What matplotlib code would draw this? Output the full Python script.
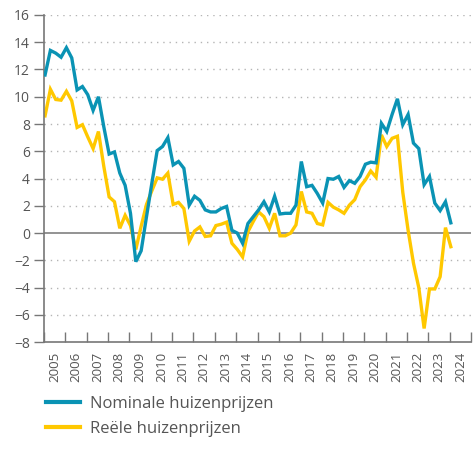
import matplotlib.pyplot as plt
import numpy as np
from matplotlib.ticker import FixedLocator, NullFormatter, FixedFormatter

# quarterly changes, 2005Q1 .. 2024Q1 (%)
nominaal = [
    11.6, 13.4, 13.2, 12.9,
    13.6, 12.85, 10.5, 10.75,
    10.15, 9.0, 10.0, 7.8,
    5.8, 5.95, 4.4, 3.5,
    1.45, -2.1, -1.3, 1.2,
    3.65, 6.05, 6.35, 7.0,
    5.0, 5.25, 4.75, 2.05,
    2.7, 2.4, 1.7, 1.55,
    1.55, 1.8, 1.95, 0.2,
    0.0, -0.75, 0.7, 1.2,
    1.7, 2.3, 1.55, 2.7,
    1.4, 1.45, 1.45, 2.05,
    5.25, 3.4, 3.5, 2.9,
    2.2, 4.0, 3.95, 4.15,
    3.35, 3.85, 3.65, 4.15,
    5.05, 5.2, 5.15, 8.05,
    7.45, 8.7, 9.85, 7.95,
    8.7, 6.6, 6.2, 3.55,
    4.15, 2.2, 1.65, 2.3,
    0.75,
]
reeel = [
    8.6, 10.55, 9.8, 9.75,
    10.4, 9.7, 7.75, 7.95,
    7.05, 6.2, 7.45, 4.9,
    2.65, 2.3, 0.35, 1.3,
    0.55, -1.2, 0.5, 2.1,
    3.1, 4.05, 3.95, 4.4,
    2.1, 2.25, 1.8, -0.6,
    0.15, 0.45, -0.25, -0.2,
    0.55, 0.65, 0.8, -0.75,
    -1.2, -1.75, 0.1, 0.85,
    1.55, 1.2, 0.35, 1.45,
    -0.2, -0.2, 0.0, 0.6,
    3.05, 1.55, 1.45, 0.7,
    0.6, 2.25, 1.9, 1.7,
    1.45, 2.05, 2.45, 3.4,
    3.9, 4.55, 4.1, 7.2,
    6.35, 6.95, 7.1, 3.0,
    0.2, -2.2, -4.0, -7.0,
    -4.1, -4.1, -3.2, 0.4,
    -1.0,
]
jaren = list(range(2005, 2025))
labels = ["Nominale huizenprijzen", "Reële huizenprijzen"]

blauw = "#0a93b4"
geel = "#ffc800"
grijs = "#555555"

plt.rcParams["font.family"] = ["Open Sans", "DejaVu Sans"]

t = 2005.05 + np.arange(len(nominaal)) / 4

fig = plt.figure(figsize=(4.73, 4.68), dpi=100)
ax = fig.add_axes([0.093, 0.269, 0.903, 0.699])

# grid
for y in range(-6, 17, 2):
    if y == 0:
        continue
    ax.axhline(y, color="#b5b5b5", lw=1.0, ls=(0, (1, 3.5)), zorder=0)
ax.axhline(0, color="#8a8a8a", lw=1.3, zorder=1)

(l1,) = ax.plot(t, nominaal, color=blauw, lw=2.4, solid_joinstyle="miter", zorder=3)
(l2,) = ax.plot(t, reeel, color=geel, lw=2.4, solid_joinstyle="miter", zorder=2)

ax.set_xlim(2005, 2025)
ax.set_ylim(-8, 16)

ax.set_yticks(range(-8, 17, 2))
ax.set_yticklabels([str(v).replace("-", "\u2212") for v in range(-8, 17, 2)])
ax.tick_params(axis="y", direction="out", length=7, width=1, color="#777777",
               labelsize=10, labelcolor=grijs, pad=3)

ax.xaxis.set_major_locator(FixedLocator(list(range(2005, 2026))))
ax.xaxis.set_major_formatter(NullFormatter())
ax.xaxis.set_minor_locator(FixedLocator([j + 0.5 for j in jaren]))
ax.xaxis.set_minor_formatter(FixedFormatter([str(j) for j in jaren]))
ax.tick_params(axis="x", which="major", direction="in", length=7, width=1, color="#777777")
ax.tick_params(axis="x", which="minor", length=0, labelsize=9.5, labelcolor=grijs,
               labelrotation=90, pad=7)

for s in ["top", "right"]:
    ax.spines[s].set_visible(False)
for s in ["left", "bottom"]:
    ax.spines[s].set_color("#777777")
    ax.spines[s].set_linewidth(1.2)

fig.legend((l1, l2), labels, loc="upper left", bbox_to_anchor=(0.066, 0.186),
           frameon=False, fontsize=12, handlelength=2.0, handletextpad=0.65,
           labelspacing=0.55, labelcolor=grijs)
for h in fig.legends[0].legend_handles:
    h.set_linewidth(3)

fig.savefig("out.png", dpi=100)
